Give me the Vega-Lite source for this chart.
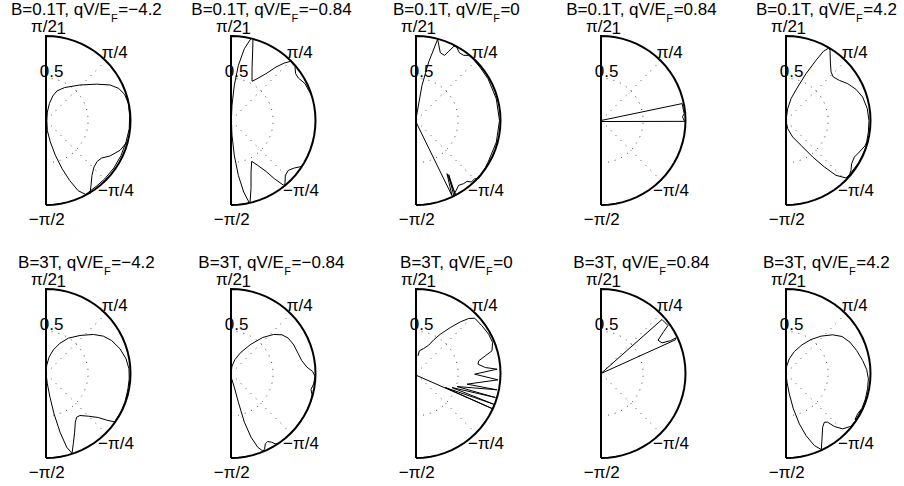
{
"$schema": "https://vega.github.io/schema/vega-lite/v6.json",
"padding": 0,
"spacing": 0,
"columns": 5,
"config": {"view": {"stroke": null}, "text": {"font": "Liberation Sans", "fontSize": 17, "color": "black"}, "line": {"color": "black", "strokeWidth": 1}},
"datasets": {
"frame": [
{"o":0,"x":0,"y":-1},{"o":1,"x":0.0872,"y":-0.9962},{"o":2,"x":0.1736,"y":-0.9848},{"o":3,"x":0.2588,"y":-0.9659},{"o":4,"x":0.342,"y":-0.9397},{"o":5,"x":0.4226,"y":-0.9063},{"o":6,"x":0.5,"y":-0.866},{"o":7,"x":0.5736,"y":-0.8192},{"o":8,"x":0.6428,"y":-0.766},{"o":9,"x":0.7071,"y":-0.7071},{"o":10,"x":0.766,"y":-0.6428},{"o":11,"x":0.8192,"y":-0.5736},{"o":12,"x":0.866,"y":-0.5},{"o":13,"x":0.9063,"y":-0.4226},{"o":14,"x":0.9397,"y":-0.342},{"o":15,"x":0.9659,"y":-0.2588},{"o":16,"x":0.9848,"y":-0.1736},{"o":17,"x":0.9962,"y":-0.0872},{"o":18,"x":1,"y":0},{"o":19,"x":0.9962,"y":0.0872},{"o":20,"x":0.9848,"y":0.1736},{"o":21,"x":0.9659,"y":0.2588},{"o":22,"x":0.9397,"y":0.342},{"o":23,"x":0.9063,"y":0.4226},{"o":24,"x":0.866,"y":0.5},{"o":25,"x":0.8192,"y":0.5736},{"o":26,"x":0.766,"y":0.6428},{"o":27,"x":0.7071,"y":0.7071},{"o":28,"x":0.6428,"y":0.766},{"o":29,"x":0.5736,"y":0.8192},{"o":30,"x":0.5,"y":0.866},{"o":31,"x":0.4226,"y":0.9063},{"o":32,"x":0.342,"y":0.9397},{"o":33,"x":0.2588,"y":0.9659},{"o":34,"x":0.1736,"y":0.9848},{"o":35,"x":0.0872,"y":0.9962},{"o":36,"x":0,"y":1},{"o":37,"x":0,"y":-1}
],
"grid": [
{"g":"c","o":0,"x":0,"y":-0.5},{"g":"c","o":1,"x":0.0868,"y":-0.4924},{"g":"c","o":2,"x":0.171,"y":-0.4698},{"g":"c","o":3,"x":0.25,"y":-0.433},{"g":"c","o":4,"x":0.3214,"y":-0.383},{"g":"c","o":5,"x":0.383,"y":-0.3214},{"g":"c","o":6,"x":0.433,"y":-0.25},{"g":"c","o":7,"x":0.4698,"y":-0.171},{"g":"c","o":8,"x":0.4924,"y":-0.0868},{"g":"c","o":9,"x":0.5,"y":0},{"g":"c","o":10,"x":0.4924,"y":0.0868},{"g":"c","o":11,"x":0.4698,"y":0.171},{"g":"c","o":12,"x":0.433,"y":0.25},{"g":"c","o":13,"x":0.383,"y":0.3214},{"g":"c","o":14,"x":0.3214,"y":0.383},{"g":"c","o":15,"x":0.25,"y":0.433},{"g":"c","o":16,"x":0.171,"y":0.4698},{"g":"c","o":17,"x":0.0868,"y":0.4924},{"g":"c","o":18,"x":0,"y":0.5},
{"g":"a","o":0,"x":0,"y":0},{"g":"a","o":1,"x":0.7071,"y":0.7071},
{"g":"b","o":0,"x":0,"y":0},{"g":"b","o":1,"x":0.7071,"y":-0.7071}
],
"labels": [
{"t":"π/2","x":-0.025,"y":1.11},{"t":"1","x":0.18,"y":1.08},{"t":"π/4","x":0.813,"y":0.802},{"t":"−π/4","x":0.828,"y":-0.834},{"t":"−π/2","x":0.008,"y":-1.181},{"t":"0.5","x":0.067,"y":0.574}
],
"titles": [
{"p":1,"k":"a","t":"B=0.1T, qV/E","x":0.765,"y":1.252},{"p":1,"k":"b","t":"F","x":0.77,"y":1.167},{"p":1,"k":"c","t":"=−4.2","x":0.856,"y":1.252},
{"p":2,"k":"a","t":"B=0.1T, qV/E","x":0.71,"y":1.252},{"p":2,"k":"b","t":"F","x":0.715,"y":1.167},{"p":2,"k":"c","t":"=−0.84","x":0.801,"y":1.252},
{"p":3,"k":"a","t":"B=0.1T, qV/E","x":0.908,"y":1.252},{"p":3,"k":"b","t":"F","x":0.913,"y":1.167},{"p":3,"k":"c","t":"=0","x":0.999,"y":1.252},
{"p":4,"k":"a","t":"B=0.1T, qV/E","x":0.7685,"y":1.252},{"p":4,"k":"b","t":"F","x":0.7735,"y":1.167},{"p":4,"k":"c","t":"=0.84","x":0.8595,"y":1.252},
{"p":5,"k":"a","t":"B=0.1T, qV/E","x":0.824,"y":1.252},{"p":5,"k":"b","t":"F","x":0.829,"y":1.167},{"p":5,"k":"c","t":"=4.2","x":0.915,"y":1.252},
{"p":6,"k":"a","t":"B=3T, qV/E","x":0.6815,"y":1.245},{"p":6,"k":"b","t":"F","x":0.6865,"y":1.16},{"p":6,"k":"c","t":"=−4.2","x":0.7725,"y":1.245},
{"p":7,"k":"a","t":"B=3T, qV/E","x":0.626,"y":1.245},{"p":7,"k":"b","t":"F","x":0.631,"y":1.16},{"p":7,"k":"c","t":"=−0.84","x":0.717,"y":1.245},
{"p":8,"k":"a","t":"B=3T, qV/E","x":0.824,"y":1.245},{"p":8,"k":"b","t":"F","x":0.829,"y":1.16},{"p":8,"k":"c","t":"=0","x":0.915,"y":1.245},
{"p":9,"k":"a","t":"B=3T, qV/E","x":0.6845,"y":1.245},{"p":9,"k":"b","t":"F","x":0.6895,"y":1.16},{"p":9,"k":"c","t":"=0.84","x":0.7755,"y":1.245},
{"p":10,"k":"a","t":"B=3T, qV/E","x":0.74,"y":1.245},{"p":10,"k":"b","t":"F","x":0.745,"y":1.16},{"p":10,"k":"c","t":"=4.2","x":0.831,"y":1.245}
],
"curves": [
{"p":1,"s":1,"o":0,"x":0.01,"y":0},{"p":1,"s":1,"o":1,"x":0.016,"y":0.1},{"p":1,"s":1,"o":2,"x":0.04,"y":0.2},{"p":1,"s":1,"o":3,"x":0.08,"y":0.29},{"p":1,"s":1,"o":4,"x":0.13,"y":0.35},{"p":1,"s":1,"o":5,"x":0.22,"y":0.39},{"p":1,"s":1,"o":6,"x":0.4,"y":0.42},{"p":1,"s":1,"o":7,"x":0.6,"y":0.43},{"p":1,"s":1,"o":8,"x":0.76,"y":0.42},{"p":1,"s":1,"o":9,"x":0.86,"y":0.38},{"p":1,"s":1,"o":10,"x":0.93,"y":0.31},{"p":1,"s":1,"o":11,"x":0.975,"y":0.2},{"p":1,"s":1,"o":12,"x":0.99,"y":0.06},{"p":1,"s":1,"o":13,"x":0.985,"y":-0.1},{"p":1,"s":1,"o":14,"x":0.947,"y":-0.254},{"p":1,"s":1,"o":15,"x":0.888,"y":-0.414},{"p":1,"s":1,"o":16,"x":0.803,"y":-0.562},{"p":1,"s":1,"o":17,"x":0.693,"y":-0.693},{"p":1,"s":1,"o":18,"x":0.603,"y":-0.772},{"p":1,"s":1,"o":19,"x":0.47,"y":-0.875},{"p":1,"s":1,"o":20,"x":0.38,"y":-0.83},{"p":1,"s":1,"o":21,"x":0.28,"y":-0.71},{"p":1,"s":1,"o":22,"x":0.19,"y":-0.57},{"p":1,"s":1,"o":23,"x":0.11,"y":-0.41},{"p":1,"s":1,"o":24,"x":0.05,"y":-0.25},{"p":1,"s":1,"o":25,"x":0.016,"y":-0.12},{"p":1,"s":1,"o":26,"x":0.01,"y":0},
{"p":1,"s":2,"o":0,"x":0.966,"y":-0.246},{"p":1,"s":2,"o":1,"x":0.876,"y":-0.353},{"p":1,"s":2,"o":2,"x":0.757,"y":-0.42},{"p":1,"s":2,"o":3,"x":0.659,"y":-0.444},{"p":1,"s":2,"o":4,"x":0.607,"y":-0.483},{"p":1,"s":2,"o":5,"x":0.568,"y":-0.55},{"p":1,"s":2,"o":6,"x":0.544,"y":-0.649},{"p":1,"s":2,"o":7,"x":0.533,"y":-0.767},{"p":1,"s":2,"o":8,"x":0.52,"y":-0.87},
{"p":2,"s":1,"o":0,"x":0.237,"y":0.97},{"p":2,"s":1,"o":1,"x":0.158,"y":0.85},{"p":2,"s":1,"o":2,"x":0.087,"y":0.652},{"p":2,"s":1,"o":3,"x":0.039,"y":0.416},{"p":2,"s":1,"o":4,"x":0.012,"y":0.179},{"p":2,"s":1,"o":5,"x":0.004,"y":0},{"p":2,"s":1,"o":6,"x":0.012,"y":-0.175},{"p":2,"s":1,"o":7,"x":0.039,"y":-0.412},{"p":2,"s":1,"o":8,"x":0.087,"y":-0.649},{"p":2,"s":1,"o":9,"x":0.15,"y":-0.846},{"p":2,"s":1,"o":10,"x":0.217,"y":-0.975},
{"p":2,"s":2,"o":0,"x":0.26,"y":0.963},{"p":2,"s":2,"o":1,"x":0.256,"y":0.81},{"p":2,"s":2,"o":2,"x":0.249,"y":0.613},{"p":2,"s":2,"o":3,"x":0.249,"y":0.464},{"p":2,"s":2,"o":4,"x":0.296,"y":0.487},{"p":2,"s":2,"o":5,"x":0.414,"y":0.554},{"p":2,"s":2,"o":6,"x":0.533,"y":0.633},{"p":2,"s":2,"o":7,"x":0.631,"y":0.68},{"p":2,"s":2,"o":8,"x":0.705,"y":0.7},{"p":2,"s":2,"o":9,"x":0.757,"y":0.64},{"p":2,"s":2,"o":10,"x":0.765,"y":0.554},{"p":2,"s":2,"o":11,"x":0.797,"y":0.503},{"p":2,"s":2,"o":12,"x":0.876,"y":0.436},{"p":2,"s":2,"o":13,"x":0.95,"y":0.3},
{"p":2,"s":3,"o":0,"x":0.225,"y":-0.972},{"p":2,"s":3,"o":1,"x":0.237,"y":-0.807},{"p":2,"s":3,"o":2,"x":0.237,"y":-0.61},{"p":2,"s":3,"o":3,"x":0.245,"y":-0.483},{"p":2,"s":3,"o":4,"x":0.316,"y":-0.531},{"p":2,"s":3,"o":5,"x":0.414,"y":-0.602},{"p":2,"s":3,"o":6,"x":0.513,"y":-0.688},{"p":2,"s":3,"o":7,"x":0.62,"y":-0.765},{"p":2,"s":3,"o":8,"x":0.639,"y":-0.75},{"p":2,"s":3,"o":9,"x":0.643,"y":-0.649},{"p":2,"s":3,"o":10,"x":0.678,"y":-0.59},{"p":2,"s":3,"o":11,"x":0.75,"y":-0.562},{"p":2,"s":3,"o":12,"x":0.828,"y":-0.546},
{"p":3,"s":1,"o":0,"x":0,"y":0.02},{"p":3,"s":1,"o":1,"x":0.071,"y":0.416},{"p":3,"s":1,"o":2,"x":0.15,"y":0.692},{"p":3,"s":1,"o":3,"x":0.256,"y":0.962},{"p":3,"s":1,"o":4,"x":0.288,"y":0.801},{"p":3,"s":1,"o":5,"x":0.339,"y":0.771},{"p":3,"s":1,"o":6,"x":0.387,"y":0.818},{"p":3,"s":1,"o":7,"x":0.45,"y":0.88},{"p":3,"s":1,"o":8,"x":0.48,"y":0.87},{"p":3,"s":1,"o":9,"x":0.513,"y":0.802},{"p":3,"s":1,"o":10,"x":0.564,"y":0.771},{"p":3,"s":1,"o":11,"x":0.623,"y":0.771},{"p":3,"s":1,"o":12,"x":0.671,"y":0.732},{"p":3,"s":1,"o":13,"x":0.755,"y":0.633},{"p":3,"s":1,"o":14,"x":0.853,"y":0.493},{"p":3,"s":1,"o":15,"x":0.951,"y":0.255},{"p":3,"s":1,"o":16,"x":0.988,"y":0},{"p":3,"s":1,"o":17,"x":0.951,"y":-0.255},{"p":3,"s":1,"o":18,"x":0.853,"y":-0.493},{"p":3,"s":1,"o":19,"x":0.82,"y":-0.56},{"p":3,"s":1,"o":20,"x":0.781,"y":-0.629},{"p":3,"s":1,"o":21,"x":0.742,"y":-0.688},{"p":3,"s":1,"o":22,"x":0.694,"y":-0.688},{"p":3,"s":1,"o":23,"x":0.655,"y":-0.728},{"p":3,"s":1,"o":24,"x":0.604,"y":-0.72},{"p":3,"s":1,"o":25,"x":0.564,"y":-0.747},{"p":3,"s":1,"o":26,"x":0.505,"y":-0.767},{"p":3,"s":1,"o":27,"x":0.446,"y":-0.886},{"p":3,"s":1,"o":28,"x":0.387,"y":-0.641},{"p":3,"s":1,"o":29,"x":0.465,"y":-0.875},{"p":3,"s":1,"o":30,"x":0.367,"y":-0.629},{"p":3,"s":1,"o":31,"x":0.426,"y":-0.89},{"p":3,"s":1,"o":32,"x":0,"y":-0.018},
{"p":4,"s":1,"o":0,"x":0,"y":0},{"p":4,"s":1,"o":1,"x":0.96,"y":0.2},{"p":4,"s":1,"o":2,"x":0.985,"y":0.08},{"p":4,"s":1,"o":3,"x":0.965,"y":0.045},{"p":4,"s":1,"o":4,"x":0.975,"y":0.02},{"p":4,"s":1,"o":5,"x":0.99,"y":-0.01},{"p":4,"s":1,"o":6,"x":0,"y":-0.012},
{"p":5,"s":1,"o":0,"x":0,"y":0},{"p":5,"s":1,"o":1,"x":0.02,"y":0.14},{"p":5,"s":1,"o":2,"x":0.059,"y":0.258},{"p":5,"s":1,"o":3,"x":0.138,"y":0.396},{"p":5,"s":1,"o":4,"x":0.237,"y":0.554},{"p":5,"s":1,"o":5,"x":0.355,"y":0.712},{"p":5,"s":1,"o":6,"x":0.442,"y":0.818},{"p":5,"s":1,"o":7,"x":0.505,"y":0.858},{"p":5,"s":1,"o":8,"x":0.521,"y":0.83},{"p":5,"s":1,"o":9,"x":0.525,"y":0.692},{"p":5,"s":1,"o":10,"x":0.533,"y":0.574},{"p":5,"s":1,"o":11,"x":0.56,"y":0.515},{"p":5,"s":1,"o":12,"x":0.631,"y":0.475},{"p":5,"s":1,"o":13,"x":0.73,"y":0.436},{"p":5,"s":1,"o":14,"x":0.828,"y":0.369},{"p":5,"s":1,"o":15,"x":0.907,"y":0.278},{"p":5,"s":1,"o":16,"x":0.962,"y":0.14},{"p":5,"s":1,"o":17,"x":0.982,"y":0},{"p":5,"s":1,"o":18,"x":0.975,"y":-0.136},{"p":5,"s":1,"o":19,"x":0.955,"y":-0.254},{"p":5,"s":1,"o":20,"x":0.935,"y":-0.3},{"p":5,"s":1,"o":21,"x":0.868,"y":-0.373},{"p":5,"s":1,"o":22,"x":0.809,"y":-0.432},{"p":5,"s":1,"o":23,"x":0.777,"y":-0.511},{"p":5,"s":1,"o":24,"x":0.769,"y":-0.59},{"p":5,"s":1,"o":25,"x":0.75,"y":-0.649},{"p":5,"s":1,"o":26,"x":0.71,"y":-0.68},{"p":5,"s":1,"o":27,"x":0.592,"y":-0.649},{"p":5,"s":1,"o":28,"x":0.454,"y":-0.55},{"p":5,"s":1,"o":29,"x":0.316,"y":-0.432},{"p":5,"s":1,"o":30,"x":0.178,"y":-0.294},{"p":5,"s":1,"o":31,"x":0.079,"y":-0.195},{"p":5,"s":1,"o":32,"x":0.02,"y":-0.097},{"p":5,"s":1,"o":33,"x":0,"y":0},
{"p":5,"s":2,"o":0,"x":0.975,"y":-0.22},{"p":5,"s":2,"o":1,"x":0.93,"y":-0.36},{"p":5,"s":2,"o":2,"x":0.86,"y":-0.5},{"p":5,"s":2,"o":3,"x":0.76,"y":-0.63},{"p":5,"s":2,"o":4,"x":0.71,"y":-0.68},
{"p":6,"s":1,"o":0,"x":0,"y":0},{"p":6,"s":1,"o":1,"x":0.008,"y":0.095},{"p":6,"s":1,"o":2,"x":0.036,"y":0.193},{"p":6,"s":1,"o":3,"x":0.087,"y":0.28},{"p":6,"s":1,"o":4,"x":0.166,"y":0.359},{"p":6,"s":1,"o":5,"x":0.264,"y":0.418},{"p":6,"s":1,"o":6,"x":0.402,"y":0.45},{"p":6,"s":1,"o":7,"x":0.56,"y":0.462},{"p":6,"s":1,"o":8,"x":0.679,"y":0.442},{"p":6,"s":1,"o":9,"x":0.777,"y":0.39},{"p":6,"s":1,"o":10,"x":0.876,"y":0.292},{"p":6,"s":1,"o":11,"x":0.947,"y":0.174},{"p":6,"s":1,"o":12,"x":0.982,"y":0.055},{"p":6,"s":1,"o":13,"x":0.985,"y":-0.063},{"p":6,"s":1,"o":14,"x":0.97,"y":-0.181},{"p":6,"s":1,"o":15,"x":0.935,"y":-0.339},{"p":6,"s":1,"o":16,"x":0.884,"y":-0.458},{"p":6,"s":1,"o":17,"x":0.812,"y":-0.572},{"p":6,"s":1,"o":18,"x":0.718,"y":-0.552},{"p":6,"s":1,"o":19,"x":0.619,"y":-0.521},{"p":6,"s":1,"o":20,"x":0.501,"y":-0.505},{"p":6,"s":1,"o":21,"x":0.402,"y":-0.497},{"p":6,"s":1,"o":22,"x":0.363,"y":-0.517},{"p":6,"s":1,"o":23,"x":0.347,"y":-0.576},{"p":6,"s":1,"o":24,"x":0.339,"y":-0.694},{"p":6,"s":1,"o":25,"x":0.323,"y":-0.832},{"p":6,"s":1,"o":26,"x":0.308,"y":-0.945},{"p":6,"s":1,"o":27,"x":0.245,"y":-0.872},{"p":6,"s":1,"o":28,"x":0.166,"y":-0.694},{"p":6,"s":1,"o":29,"x":0.095,"y":-0.477},{"p":6,"s":1,"o":30,"x":0.047,"y":-0.28},{"p":6,"s":1,"o":31,"x":0.016,"y":-0.122},{"p":6,"s":1,"o":32,"x":0,"y":0},
{"p":7,"s":1,"o":0,"x":0,"y":0},{"p":7,"s":1,"o":1,"x":0.012,"y":0.087},{"p":7,"s":1,"o":2,"x":0.047,"y":0.166},{"p":7,"s":1,"o":3,"x":0.118,"y":0.252},{"p":7,"s":1,"o":4,"x":0.237,"y":0.347},{"p":7,"s":1,"o":5,"x":0.375,"y":0.426},{"p":7,"s":1,"o":6,"x":0.505,"y":0.462},{"p":7,"s":1,"o":7,"x":0.604,"y":0.458},{"p":7,"s":1,"o":8,"x":0.678,"y":0.418},{"p":7,"s":1,"o":9,"x":0.742,"y":0.339},{"p":7,"s":1,"o":10,"x":0.797,"y":0.233},{"p":7,"s":1,"o":11,"x":0.836,"y":0.154},{"p":7,"s":1,"o":12,"x":0.899,"y":0.075},{"p":7,"s":1,"o":13,"x":0.966,"y":0.024},{"p":7,"s":1,"o":14,"x":0.995,"y":-0.032},{"p":7,"s":1,"o":15,"x":0.978,"y":-0.122},{"p":7,"s":1,"o":16,"x":0.947,"y":-0.189},{"p":7,"s":1,"o":17,"x":0.959,"y":-0.252},{"p":7,"s":1,"o":18,"x":0.947,"y":-0.32},{"p":7,"s":1,"o":19,"x":0.888,"y":-0.465},{"p":7,"s":1,"o":20,"x":0.789,"y":-0.61},{"p":7,"s":1,"o":21,"x":0.671,"y":-0.74},{"p":7,"s":1,"o":22,"x":0.584,"y":-0.81},{"p":7,"s":1,"o":23,"x":0.533,"y":-0.836},{"p":7,"s":1,"o":24,"x":0.481,"y":-0.813},{"p":7,"s":1,"o":25,"x":0.434,"y":-0.805},{"p":7,"s":1,"o":26,"x":0.406,"y":-0.832},{"p":7,"s":1,"o":27,"x":0.398,"y":-0.892},{"p":7,"s":1,"o":28,"x":0.38,"y":-0.92},{"p":7,"s":1,"o":29,"x":0.316,"y":-0.872},{"p":7,"s":1,"o":30,"x":0.237,"y":-0.753},{"p":7,"s":1,"o":31,"x":0.158,"y":-0.576},{"p":7,"s":1,"o":32,"x":0.087,"y":-0.339},{"p":7,"s":1,"o":33,"x":0.039,"y":-0.162},{"p":7,"s":1,"o":34,"x":0.008,"y":-0.063},{"p":7,"s":1,"o":35,"x":0,"y":0},
{"p":8,"s":1,"o":0,"x":0.024,"y":0.209},{"p":8,"s":1,"o":1,"x":0.039,"y":0.268},{"p":8,"s":1,"o":2,"x":0.091,"y":0.296},{"p":8,"s":1,"o":3,"x":0.15,"y":0.335},{"p":8,"s":1,"o":4,"x":0.209,"y":0.398},{"p":8,"s":1,"o":5,"x":0.288,"y":0.465},{"p":8,"s":1,"o":6,"x":0.406,"y":0.544},{"p":8,"s":1,"o":7,"x":0.525,"y":0.611},{"p":8,"s":1,"o":8,"x":0.623,"y":0.651},{"p":8,"s":1,"o":9,"x":0.694,"y":0.655},{"p":8,"s":1,"o":10,"x":0.781,"y":0.564},{"p":8,"s":1,"o":11,"x":0.86,"y":0.465},{"p":8,"s":1,"o":12,"x":0.907,"y":0.367},{"p":8,"s":1,"o":13,"x":0.899,"y":0.268},{"p":8,"s":1,"o":14,"x":0.82,"y":0.209},{"p":8,"s":1,"o":15,"x":0.742,"y":0.15},{"p":8,"s":1,"o":16,"x":0.734,"y":0.11},{"p":8,"s":1,"o":17,"x":0.82,"y":0.071},{"p":8,"s":1,"o":18,"x":0.959,"y":0.051},{"p":8,"s":1,"o":19,"x":0.694,"y":-0.008},{"p":8,"s":1,"o":20,"x":0.97,"y":-0.075},{"p":8,"s":1,"o":21,"x":0.604,"y":-0.126},{"p":8,"s":1,"o":22,"x":0.959,"y":-0.193},{"p":8,"s":1,"o":23,"x":0.485,"y":-0.154},{"p":8,"s":1,"o":24,"x":0.939,"y":-0.284},{"p":8,"s":1,"o":25,"x":0.426,"y":-0.166},{"p":8,"s":1,"o":26,"x":0.919,"y":-0.363},{"p":8,"s":1,"o":27,"x":0.347,"y":-0.166},{"p":8,"s":1,"o":28,"x":0.899,"y":-0.414},{"p":8,"s":1,"o":29,"x":0,"y":-0.02},
{"p":9,"s":1,"o":0,"x":0,"y":0},{"p":9,"s":1,"o":1,"x":0.722,"y":0.639},{"p":9,"s":1,"o":2,"x":0.793,"y":0.568},{"p":9,"s":1,"o":3,"x":0.742,"y":0.497},{"p":9,"s":1,"o":4,"x":0.675,"y":0.394},{"p":9,"s":1,"o":5,"x":0.722,"y":0.363},{"p":9,"s":1,"o":6,"x":0.82,"y":0.387},{"p":9,"s":1,"o":7,"x":0.888,"y":0.422},{"p":9,"s":1,"o":8,"x":0.88,"y":0.398},{"p":9,"s":1,"o":9,"x":0,"y":0},
{"p":10,"s":1,"o":0,"x":0,"y":0},{"p":10,"s":1,"o":1,"x":0.008,"y":0.087},{"p":10,"s":1,"o":2,"x":0.039,"y":0.174},{"p":10,"s":1,"o":3,"x":0.099,"y":0.26},{"p":10,"s":1,"o":4,"x":0.189,"y":0.339},{"p":10,"s":1,"o":5,"x":0.296,"y":0.402},{"p":10,"s":1,"o":6,"x":0.414,"y":0.442},{"p":10,"s":1,"o":7,"x":0.552,"y":0.458},{"p":10,"s":1,"o":8,"x":0.663,"y":0.438},{"p":10,"s":1,"o":9,"x":0.757,"y":0.371},{"p":10,"s":1,"o":10,"x":0.836,"y":0.272},{"p":10,"s":1,"o":11,"x":0.907,"y":0.154},{"p":10,"s":1,"o":12,"x":0.955,"y":0.047},{"p":10,"s":1,"o":13,"x":0.975,"y":-0.063},{"p":10,"s":1,"o":14,"x":0.965,"y":-0.181},{"p":10,"s":1,"o":15,"x":0.94,"y":-0.3},{"p":10,"s":1,"o":16,"x":0.9,"y":-0.41},{"p":10,"s":1,"o":17,"x":0.848,"y":-0.477},{"p":10,"s":1,"o":18,"x":0.817,"y":-0.544},{"p":10,"s":1,"o":19,"x":0.836,"y":-0.548},{"p":10,"s":1,"o":20,"x":0.878,"y":-0.47},{"p":10,"s":1,"o":21,"x":0.89,"y":-0.43},{"p":10,"s":1,"o":22,"x":0.828,"y":-0.55},{"p":10,"s":1,"o":23,"x":0.769,"y":-0.625},{"p":10,"s":1,"o":24,"x":0.671,"y":-0.655},{"p":10,"s":1,"o":25,"x":0.572,"y":-0.627},{"p":10,"s":1,"o":26,"x":0.493,"y":-0.576},{"p":10,"s":1,"o":27,"x":0.454,"y":-0.576},{"p":10,"s":1,"o":28,"x":0.434,"y":-0.635},{"p":10,"s":1,"o":29,"x":0.426,"y":-0.773},{"p":10,"s":1,"o":30,"x":0.418,"y":-0.9},{"p":10,"s":1,"o":31,"x":0.335,"y":-0.852},{"p":10,"s":1,"o":32,"x":0.237,"y":-0.734},{"p":10,"s":1,"o":33,"x":0.158,"y":-0.596},{"p":10,"s":1,"o":34,"x":0.087,"y":-0.418},{"p":10,"s":1,"o":35,"x":0.039,"y":-0.241},{"p":10,"s":1,"o":36,"x":0.012,"y":-0.103},{"p":10,"s":1,"o":37,"x":0,"y":0}
]
},
"concat": [
{"width":185,"height":252,"layer":[
{"data":{"name":"grid"},"mark":{"type":"line","strokeDash":[1,6],"color":"#444"},"encoding":{"x":{"field":"x","type":"quantitative","scale":{"domain":[-0.5444,1.645],"nice":false,"zero":false},"axis":null},"y":{"field":"y","type":"quantitative","scale":{"domain":[-1.5798,1.4024],"nice":false,"zero":false},"axis":null},"order":{"field":"o","type":"quantitative"},"detail":{"field":"g"}}},
{"data":{"name":"frame"},"mark":{"type":"line","strokeWidth":2},"encoding":{"x":{"field":"x","type":"quantitative"},"y":{"field":"y","type":"quantitative"},"order":{"field":"o","type":"quantitative"}}},
{"data":{"name":"curves"},"transform":[{"filter":"datum.p==1"}],"mark":{"type":"line"},"encoding":{"x":{"field":"x","type":"quantitative"},"y":{"field":"y","type":"quantitative"},"order":{"field":"o","type":"quantitative"},"detail":{"field":"s"}}},
{"data":{"name":"labels"},"mark":{"type":"text","baseline":"middle"},"encoding":{"x":{"field":"x","type":"quantitative"},"y":{"field":"y","type":"quantitative"},"text":{"field":"t"}}},
{"data":{"name":"titles"},"transform":[{"filter":"datum.p==1 && datum.k=='a'"}],"mark":{"type":"text","align":"right","baseline":"alphabetic"},"encoding":{"x":{"field":"x","type":"quantitative"},"y":{"field":"y","type":"quantitative"},"text":{"field":"t"}}},
{"data":{"name":"titles"},"transform":[{"filter":"datum.p==1 && datum.k=='b'"}],"mark":{"type":"text","align":"left","baseline":"alphabetic","fontSize":11},"encoding":{"x":{"field":"x","type":"quantitative"},"y":{"field":"y","type":"quantitative"},"text":{"field":"t"}}},
{"data":{"name":"titles"},"transform":[{"filter":"datum.p==1 && datum.k=='c'"}],"mark":{"type":"text","align":"left","baseline":"alphabetic"},"encoding":{"x":{"field":"x","type":"quantitative"},"y":{"field":"y","type":"quantitative"},"text":{"field":"t"}}}
]},
{"width":185,"height":252,"layer":[
{"data":{"name":"grid"},"mark":{"type":"line","strokeDash":[1,6],"color":"#444"},"encoding":{"x":{"field":"x","type":"quantitative","scale":{"domain":[-0.5444,1.645],"nice":false,"zero":false},"axis":null},"y":{"field":"y","type":"quantitative","scale":{"domain":[-1.5798,1.4024],"nice":false,"zero":false},"axis":null},"order":{"field":"o","type":"quantitative"},"detail":{"field":"g"}}},
{"data":{"name":"frame"},"mark":{"type":"line","strokeWidth":2},"encoding":{"x":{"field":"x","type":"quantitative"},"y":{"field":"y","type":"quantitative"},"order":{"field":"o","type":"quantitative"}}},
{"data":{"name":"curves"},"transform":[{"filter":"datum.p==2"}],"mark":{"type":"line"},"encoding":{"x":{"field":"x","type":"quantitative"},"y":{"field":"y","type":"quantitative"},"order":{"field":"o","type":"quantitative"},"detail":{"field":"s"}}},
{"data":{"name":"labels"},"mark":{"type":"text","baseline":"middle"},"encoding":{"x":{"field":"x","type":"quantitative"},"y":{"field":"y","type":"quantitative"},"text":{"field":"t"}}},
{"data":{"name":"titles"},"transform":[{"filter":"datum.p==2 && datum.k=='a'"}],"mark":{"type":"text","align":"right","baseline":"alphabetic"},"encoding":{"x":{"field":"x","type":"quantitative"},"y":{"field":"y","type":"quantitative"},"text":{"field":"t"}}},
{"data":{"name":"titles"},"transform":[{"filter":"datum.p==2 && datum.k=='b'"}],"mark":{"type":"text","align":"left","baseline":"alphabetic","fontSize":11},"encoding":{"x":{"field":"x","type":"quantitative"},"y":{"field":"y","type":"quantitative"},"text":{"field":"t"}}},
{"data":{"name":"titles"},"transform":[{"filter":"datum.p==2 && datum.k=='c'"}],"mark":{"type":"text","align":"left","baseline":"alphabetic"},"encoding":{"x":{"field":"x","type":"quantitative"},"y":{"field":"y","type":"quantitative"},"text":{"field":"t"}}}
]},
{"width":185,"height":252,"layer":[
{"data":{"name":"grid"},"mark":{"type":"line","strokeDash":[1,6],"color":"#444"},"encoding":{"x":{"field":"x","type":"quantitative","scale":{"domain":[-0.5444,1.645],"nice":false,"zero":false},"axis":null},"y":{"field":"y","type":"quantitative","scale":{"domain":[-1.5798,1.4024],"nice":false,"zero":false},"axis":null},"order":{"field":"o","type":"quantitative"},"detail":{"field":"g"}}},
{"data":{"name":"frame"},"mark":{"type":"line","strokeWidth":2},"encoding":{"x":{"field":"x","type":"quantitative"},"y":{"field":"y","type":"quantitative"},"order":{"field":"o","type":"quantitative"}}},
{"data":{"name":"curves"},"transform":[{"filter":"datum.p==3"}],"mark":{"type":"line"},"encoding":{"x":{"field":"x","type":"quantitative"},"y":{"field":"y","type":"quantitative"},"order":{"field":"o","type":"quantitative"},"detail":{"field":"s"}}},
{"data":{"name":"labels"},"mark":{"type":"text","baseline":"middle"},"encoding":{"x":{"field":"x","type":"quantitative"},"y":{"field":"y","type":"quantitative"},"text":{"field":"t"}}},
{"data":{"name":"titles"},"transform":[{"filter":"datum.p==3 && datum.k=='a'"}],"mark":{"type":"text","align":"right","baseline":"alphabetic"},"encoding":{"x":{"field":"x","type":"quantitative"},"y":{"field":"y","type":"quantitative"},"text":{"field":"t"}}},
{"data":{"name":"titles"},"transform":[{"filter":"datum.p==3 && datum.k=='b'"}],"mark":{"type":"text","align":"left","baseline":"alphabetic","fontSize":11},"encoding":{"x":{"field":"x","type":"quantitative"},"y":{"field":"y","type":"quantitative"},"text":{"field":"t"}}},
{"data":{"name":"titles"},"transform":[{"filter":"datum.p==3 && datum.k=='c'"}],"mark":{"type":"text","align":"left","baseline":"alphabetic"},"encoding":{"x":{"field":"x","type":"quantitative"},"y":{"field":"y","type":"quantitative"},"text":{"field":"t"}}}
]},
{"width":185,"height":252,"layer":[
{"data":{"name":"grid"},"mark":{"type":"line","strokeDash":[1,6],"color":"#444"},"encoding":{"x":{"field":"x","type":"quantitative","scale":{"domain":[-0.5444,1.645],"nice":false,"zero":false},"axis":null},"y":{"field":"y","type":"quantitative","scale":{"domain":[-1.5798,1.4024],"nice":false,"zero":false},"axis":null},"order":{"field":"o","type":"quantitative"},"detail":{"field":"g"}}},
{"data":{"name":"frame"},"mark":{"type":"line","strokeWidth":2},"encoding":{"x":{"field":"x","type":"quantitative"},"y":{"field":"y","type":"quantitative"},"order":{"field":"o","type":"quantitative"}}},
{"data":{"name":"curves"},"transform":[{"filter":"datum.p==4"}],"mark":{"type":"line"},"encoding":{"x":{"field":"x","type":"quantitative"},"y":{"field":"y","type":"quantitative"},"order":{"field":"o","type":"quantitative"},"detail":{"field":"s"}}},
{"data":{"name":"labels"},"mark":{"type":"text","baseline":"middle"},"encoding":{"x":{"field":"x","type":"quantitative"},"y":{"field":"y","type":"quantitative"},"text":{"field":"t"}}},
{"data":{"name":"titles"},"transform":[{"filter":"datum.p==4 && datum.k=='a'"}],"mark":{"type":"text","align":"right","baseline":"alphabetic"},"encoding":{"x":{"field":"x","type":"quantitative"},"y":{"field":"y","type":"quantitative"},"text":{"field":"t"}}},
{"data":{"name":"titles"},"transform":[{"filter":"datum.p==4 && datum.k=='b'"}],"mark":{"type":"text","align":"left","baseline":"alphabetic","fontSize":11},"encoding":{"x":{"field":"x","type":"quantitative"},"y":{"field":"y","type":"quantitative"},"text":{"field":"t"}}},
{"data":{"name":"titles"},"transform":[{"filter":"datum.p==4 && datum.k=='c'"}],"mark":{"type":"text","align":"left","baseline":"alphabetic"},"encoding":{"x":{"field":"x","type":"quantitative"},"y":{"field":"y","type":"quantitative"},"text":{"field":"t"}}}
]},
{"width":185,"height":252,"layer":[
{"data":{"name":"grid"},"mark":{"type":"line","strokeDash":[1,6],"color":"#444"},"encoding":{"x":{"field":"x","type":"quantitative","scale":{"domain":[-0.5444,1.645],"nice":false,"zero":false},"axis":null},"y":{"field":"y","type":"quantitative","scale":{"domain":[-1.5798,1.4024],"nice":false,"zero":false},"axis":null},"order":{"field":"o","type":"quantitative"},"detail":{"field":"g"}}},
{"data":{"name":"frame"},"mark":{"type":"line","strokeWidth":2},"encoding":{"x":{"field":"x","type":"quantitative"},"y":{"field":"y","type":"quantitative"},"order":{"field":"o","type":"quantitative"}}},
{"data":{"name":"curves"},"transform":[{"filter":"datum.p==5"}],"mark":{"type":"line"},"encoding":{"x":{"field":"x","type":"quantitative"},"y":{"field":"y","type":"quantitative"},"order":{"field":"o","type":"quantitative"},"detail":{"field":"s"}}},
{"data":{"name":"labels"},"mark":{"type":"text","baseline":"middle"},"encoding":{"x":{"field":"x","type":"quantitative"},"y":{"field":"y","type":"quantitative"},"text":{"field":"t"}}},
{"data":{"name":"titles"},"transform":[{"filter":"datum.p==5 && datum.k=='a'"}],"mark":{"type":"text","align":"right","baseline":"alphabetic"},"encoding":{"x":{"field":"x","type":"quantitative"},"y":{"field":"y","type":"quantitative"},"text":{"field":"t"}}},
{"data":{"name":"titles"},"transform":[{"filter":"datum.p==5 && datum.k=='b'"}],"mark":{"type":"text","align":"left","baseline":"alphabetic","fontSize":11},"encoding":{"x":{"field":"x","type":"quantitative"},"y":{"field":"y","type":"quantitative"},"text":{"field":"t"}}},
{"data":{"name":"titles"},"transform":[{"filter":"datum.p==5 && datum.k=='c'"}],"mark":{"type":"text","align":"left","baseline":"alphabetic"},"encoding":{"x":{"field":"x","type":"quantitative"},"y":{"field":"y","type":"quantitative"},"text":{"field":"t"}}}
]},
{"width":185,"height":252,"layer":[
{"data":{"name":"grid"},"mark":{"type":"line","strokeDash":[1,6],"color":"#444"},"encoding":{"x":{"field":"x","type":"quantitative","scale":{"domain":[-0.5444,1.645],"nice":false,"zero":false},"axis":null},"y":{"field":"y","type":"quantitative","scale":{"domain":[-1.5798,1.4024],"nice":false,"zero":false},"axis":null},"order":{"field":"o","type":"quantitative"},"detail":{"field":"g"}}},
{"data":{"name":"frame"},"mark":{"type":"line","strokeWidth":2},"encoding":{"x":{"field":"x","type":"quantitative"},"y":{"field":"y","type":"quantitative"},"order":{"field":"o","type":"quantitative"}}},
{"data":{"name":"curves"},"transform":[{"filter":"datum.p==6"}],"mark":{"type":"line"},"encoding":{"x":{"field":"x","type":"quantitative"},"y":{"field":"y","type":"quantitative"},"order":{"field":"o","type":"quantitative"},"detail":{"field":"s"}}},
{"data":{"name":"labels"},"mark":{"type":"text","baseline":"middle"},"encoding":{"x":{"field":"x","type":"quantitative"},"y":{"field":"y","type":"quantitative"},"text":{"field":"t"}}},
{"data":{"name":"titles"},"transform":[{"filter":"datum.p==6 && datum.k=='a'"}],"mark":{"type":"text","align":"right","baseline":"alphabetic"},"encoding":{"x":{"field":"x","type":"quantitative"},"y":{"field":"y","type":"quantitative"},"text":{"field":"t"}}},
{"data":{"name":"titles"},"transform":[{"filter":"datum.p==6 && datum.k=='b'"}],"mark":{"type":"text","align":"left","baseline":"alphabetic","fontSize":11},"encoding":{"x":{"field":"x","type":"quantitative"},"y":{"field":"y","type":"quantitative"},"text":{"field":"t"}}},
{"data":{"name":"titles"},"transform":[{"filter":"datum.p==6 && datum.k=='c'"}],"mark":{"type":"text","align":"left","baseline":"alphabetic"},"encoding":{"x":{"field":"x","type":"quantitative"},"y":{"field":"y","type":"quantitative"},"text":{"field":"t"}}}
]},
{"width":185,"height":252,"layer":[
{"data":{"name":"grid"},"mark":{"type":"line","strokeDash":[1,6],"color":"#444"},"encoding":{"x":{"field":"x","type":"quantitative","scale":{"domain":[-0.5444,1.645],"nice":false,"zero":false},"axis":null},"y":{"field":"y","type":"quantitative","scale":{"domain":[-1.5798,1.4024],"nice":false,"zero":false},"axis":null},"order":{"field":"o","type":"quantitative"},"detail":{"field":"g"}}},
{"data":{"name":"frame"},"mark":{"type":"line","strokeWidth":2},"encoding":{"x":{"field":"x","type":"quantitative"},"y":{"field":"y","type":"quantitative"},"order":{"field":"o","type":"quantitative"}}},
{"data":{"name":"curves"},"transform":[{"filter":"datum.p==7"}],"mark":{"type":"line"},"encoding":{"x":{"field":"x","type":"quantitative"},"y":{"field":"y","type":"quantitative"},"order":{"field":"o","type":"quantitative"},"detail":{"field":"s"}}},
{"data":{"name":"labels"},"mark":{"type":"text","baseline":"middle"},"encoding":{"x":{"field":"x","type":"quantitative"},"y":{"field":"y","type":"quantitative"},"text":{"field":"t"}}},
{"data":{"name":"titles"},"transform":[{"filter":"datum.p==7 && datum.k=='a'"}],"mark":{"type":"text","align":"right","baseline":"alphabetic"},"encoding":{"x":{"field":"x","type":"quantitative"},"y":{"field":"y","type":"quantitative"},"text":{"field":"t"}}},
{"data":{"name":"titles"},"transform":[{"filter":"datum.p==7 && datum.k=='b'"}],"mark":{"type":"text","align":"left","baseline":"alphabetic","fontSize":11},"encoding":{"x":{"field":"x","type":"quantitative"},"y":{"field":"y","type":"quantitative"},"text":{"field":"t"}}},
{"data":{"name":"titles"},"transform":[{"filter":"datum.p==7 && datum.k=='c'"}],"mark":{"type":"text","align":"left","baseline":"alphabetic"},"encoding":{"x":{"field":"x","type":"quantitative"},"y":{"field":"y","type":"quantitative"},"text":{"field":"t"}}}
]},
{"width":185,"height":252,"layer":[
{"data":{"name":"grid"},"mark":{"type":"line","strokeDash":[1,6],"color":"#444"},"encoding":{"x":{"field":"x","type":"quantitative","scale":{"domain":[-0.5444,1.645],"nice":false,"zero":false},"axis":null},"y":{"field":"y","type":"quantitative","scale":{"domain":[-1.5798,1.4024],"nice":false,"zero":false},"axis":null},"order":{"field":"o","type":"quantitative"},"detail":{"field":"g"}}},
{"data":{"name":"frame"},"mark":{"type":"line","strokeWidth":2},"encoding":{"x":{"field":"x","type":"quantitative"},"y":{"field":"y","type":"quantitative"},"order":{"field":"o","type":"quantitative"}}},
{"data":{"name":"curves"},"transform":[{"filter":"datum.p==8"}],"mark":{"type":"line"},"encoding":{"x":{"field":"x","type":"quantitative"},"y":{"field":"y","type":"quantitative"},"order":{"field":"o","type":"quantitative"},"detail":{"field":"s"}}},
{"data":{"name":"labels"},"mark":{"type":"text","baseline":"middle"},"encoding":{"x":{"field":"x","type":"quantitative"},"y":{"field":"y","type":"quantitative"},"text":{"field":"t"}}},
{"data":{"name":"titles"},"transform":[{"filter":"datum.p==8 && datum.k=='a'"}],"mark":{"type":"text","align":"right","baseline":"alphabetic"},"encoding":{"x":{"field":"x","type":"quantitative"},"y":{"field":"y","type":"quantitative"},"text":{"field":"t"}}},
{"data":{"name":"titles"},"transform":[{"filter":"datum.p==8 && datum.k=='b'"}],"mark":{"type":"text","align":"left","baseline":"alphabetic","fontSize":11},"encoding":{"x":{"field":"x","type":"quantitative"},"y":{"field":"y","type":"quantitative"},"text":{"field":"t"}}},
{"data":{"name":"titles"},"transform":[{"filter":"datum.p==8 && datum.k=='c'"}],"mark":{"type":"text","align":"left","baseline":"alphabetic"},"encoding":{"x":{"field":"x","type":"quantitative"},"y":{"field":"y","type":"quantitative"},"text":{"field":"t"}}}
]},
{"width":185,"height":252,"layer":[
{"data":{"name":"grid"},"mark":{"type":"line","strokeDash":[1,6],"color":"#444"},"encoding":{"x":{"field":"x","type":"quantitative","scale":{"domain":[-0.5444,1.645],"nice":false,"zero":false},"axis":null},"y":{"field":"y","type":"quantitative","scale":{"domain":[-1.5798,1.4024],"nice":false,"zero":false},"axis":null},"order":{"field":"o","type":"quantitative"},"detail":{"field":"g"}}},
{"data":{"name":"frame"},"mark":{"type":"line","strokeWidth":2},"encoding":{"x":{"field":"x","type":"quantitative"},"y":{"field":"y","type":"quantitative"},"order":{"field":"o","type":"quantitative"}}},
{"data":{"name":"curves"},"transform":[{"filter":"datum.p==9"}],"mark":{"type":"line"},"encoding":{"x":{"field":"x","type":"quantitative"},"y":{"field":"y","type":"quantitative"},"order":{"field":"o","type":"quantitative"},"detail":{"field":"s"}}},
{"data":{"name":"labels"},"mark":{"type":"text","baseline":"middle"},"encoding":{"x":{"field":"x","type":"quantitative"},"y":{"field":"y","type":"quantitative"},"text":{"field":"t"}}},
{"data":{"name":"titles"},"transform":[{"filter":"datum.p==9 && datum.k=='a'"}],"mark":{"type":"text","align":"right","baseline":"alphabetic"},"encoding":{"x":{"field":"x","type":"quantitative"},"y":{"field":"y","type":"quantitative"},"text":{"field":"t"}}},
{"data":{"name":"titles"},"transform":[{"filter":"datum.p==9 && datum.k=='b'"}],"mark":{"type":"text","align":"left","baseline":"alphabetic","fontSize":11},"encoding":{"x":{"field":"x","type":"quantitative"},"y":{"field":"y","type":"quantitative"},"text":{"field":"t"}}},
{"data":{"name":"titles"},"transform":[{"filter":"datum.p==9 && datum.k=='c'"}],"mark":{"type":"text","align":"left","baseline":"alphabetic"},"encoding":{"x":{"field":"x","type":"quantitative"},"y":{"field":"y","type":"quantitative"},"text":{"field":"t"}}}
]},
{"width":185,"height":252,"layer":[
{"data":{"name":"grid"},"mark":{"type":"line","strokeDash":[1,6],"color":"#444"},"encoding":{"x":{"field":"x","type":"quantitative","scale":{"domain":[-0.5444,1.645],"nice":false,"zero":false},"axis":null},"y":{"field":"y","type":"quantitative","scale":{"domain":[-1.5798,1.4024],"nice":false,"zero":false},"axis":null},"order":{"field":"o","type":"quantitative"},"detail":{"field":"g"}}},
{"data":{"name":"frame"},"mark":{"type":"line","strokeWidth":2},"encoding":{"x":{"field":"x","type":"quantitative"},"y":{"field":"y","type":"quantitative"},"order":{"field":"o","type":"quantitative"}}},
{"data":{"name":"curves"},"transform":[{"filter":"datum.p==10"}],"mark":{"type":"line"},"encoding":{"x":{"field":"x","type":"quantitative"},"y":{"field":"y","type":"quantitative"},"order":{"field":"o","type":"quantitative"},"detail":{"field":"s"}}},
{"data":{"name":"labels"},"mark":{"type":"text","baseline":"middle"},"encoding":{"x":{"field":"x","type":"quantitative"},"y":{"field":"y","type":"quantitative"},"text":{"field":"t"}}},
{"data":{"name":"titles"},"transform":[{"filter":"datum.p==10 && datum.k=='a'"}],"mark":{"type":"text","align":"right","baseline":"alphabetic"},"encoding":{"x":{"field":"x","type":"quantitative"},"y":{"field":"y","type":"quantitative"},"text":{"field":"t"}}},
{"data":{"name":"titles"},"transform":[{"filter":"datum.p==10 && datum.k=='b'"}],"mark":{"type":"text","align":"left","baseline":"alphabetic","fontSize":11},"encoding":{"x":{"field":"x","type":"quantitative"},"y":{"field":"y","type":"quantitative"},"text":{"field":"t"}}},
{"data":{"name":"titles"},"transform":[{"filter":"datum.p==10 && datum.k=='c'"}],"mark":{"type":"text","align":"left","baseline":"alphabetic"},"encoding":{"x":{"field":"x","type":"quantitative"},"y":{"field":"y","type":"quantitative"},"text":{"field":"t"}}}
]}
]
}
